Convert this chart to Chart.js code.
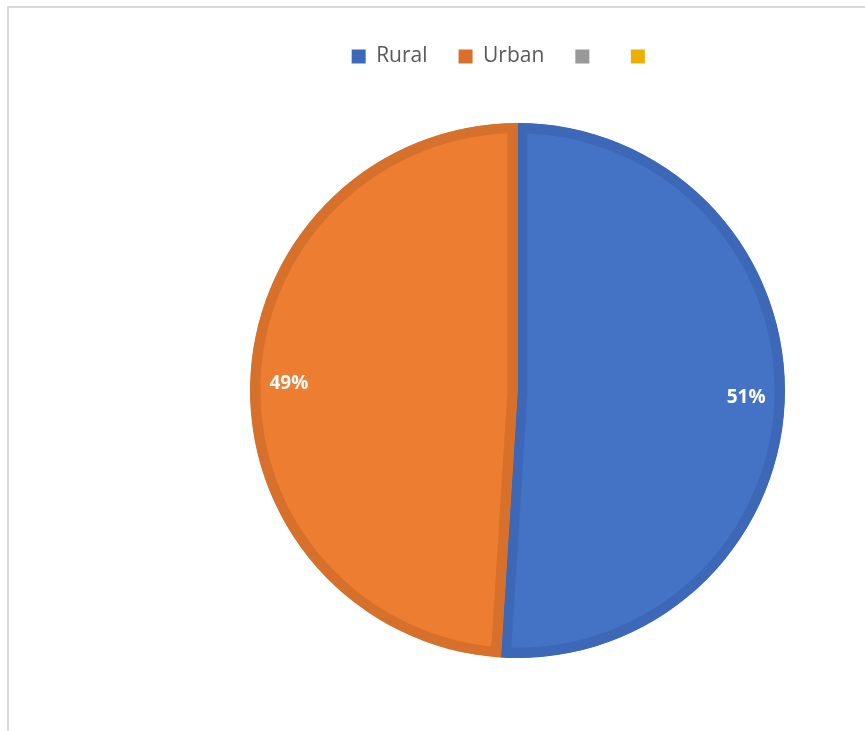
<!DOCTYPE html>
<html>
<head>
<meta charset="utf-8">
<script src="https://cdn.jsdelivr.net/npm/chart.js@4"></script>
<style>
  html, body { margin: 0; padding: 0; background: #ffffff; }
  #wrap { position: relative; width: 865px; height: 731px; overflow: hidden; }
  #frame {
    position: absolute; left: 7px; top: 6px; width: 900px; height: 800px;
    border-left: 2px solid #d9d9d9; border-top: 2px solid #d9d9d9;
  }
  #pie { position: absolute; left: 0; top: 0; }
</style>
</head>
<body>
<div id="wrap">
  <div id="frame"></div>
  <canvas id="pie" width="865" height="731"></canvas>
</div>
<script>
const labels      = ['Rural', 'Urban', '', ''];
const shares      = [51, 49, 0, 0];
const fills       = ['#4472c4', '#ed7d31', '#a5a5a5', '#ffc000'];
const edges       = ['#3c68b7', '#d6702b', '#999999', '#ebb000'];

// percentage text near the outer rim of each slice
const sliceLabels = {
  id: 'sliceLabels',
  afterDatasetsDraw(chart) {
    const ctx = chart.ctx;
    const meta = chart.getDatasetMeta(0);
    ctx.save();
    ctx.fillStyle = '#ffffff';
    ctx.font = 'bold 19px "Open Sans", sans-serif';
    ctx.textAlign = 'center';
    ctx.textBaseline = 'middle';
    meta.data.forEach((arc, k) => {
      const v = shares[k];
      if (!v) return;
      const p = arc.getProps(['x', 'y', 'startAngle', 'endAngle', 'outerRadius'], true);
      const mid = (p.startAngle + p.endAngle) / 2;
      const r = p.outerRadius * 0.855;
      ctx.fillText(`${v}%`, p.x + Math.cos(mid) * r, p.y + Math.sin(mid) * r);
    });
    ctx.restore();
  },
};

// the legend row sits a little left of the pie's centre line
const legendNudge = {
  id: 'legendNudge',
  afterLayout(chart) {
    chart.legend.left -= 14;
    chart.legend.right -= 14;
  },
};

new Chart(document.getElementById('pie'), {
  type: 'pie',
  data: {
    labels: labels,
    datasets: [{
      data: shares,
      backgroundColor: fills,
      borderColor: edges,
      borderWidth: 10,
      borderAlign: 'inner',
      hoverOffset: 0,
      offset: 0,
    }],
  },
  options: {
    responsive: false,
    animation: false,
    events: [],
    layout: { padding: { top: 15, left: 250, right: 80, bottom: 27 } },
    plugins: {
      tooltip: { enabled: false },
      legend: {
        position: 'top',
        labels: {
          color: '#595959',
          font: { family: '"Open Sans", sans-serif', size: 21 },
          boxWidth: 14,
          boxHeight: 14,
          padding: 31,
          generateLabels: (chart) => labels.map((t, k) => ({
            text: t,
            fillStyle: edges[k],
            strokeStyle: edges[k],
            lineWidth: 0,
            fontColor: '#595959',
            hidden: false,
            index: k,
          })),
        },
      },
    },
  },
  plugins: [sliceLabels, legendNudge],
});
</script>
</body>
</html>
